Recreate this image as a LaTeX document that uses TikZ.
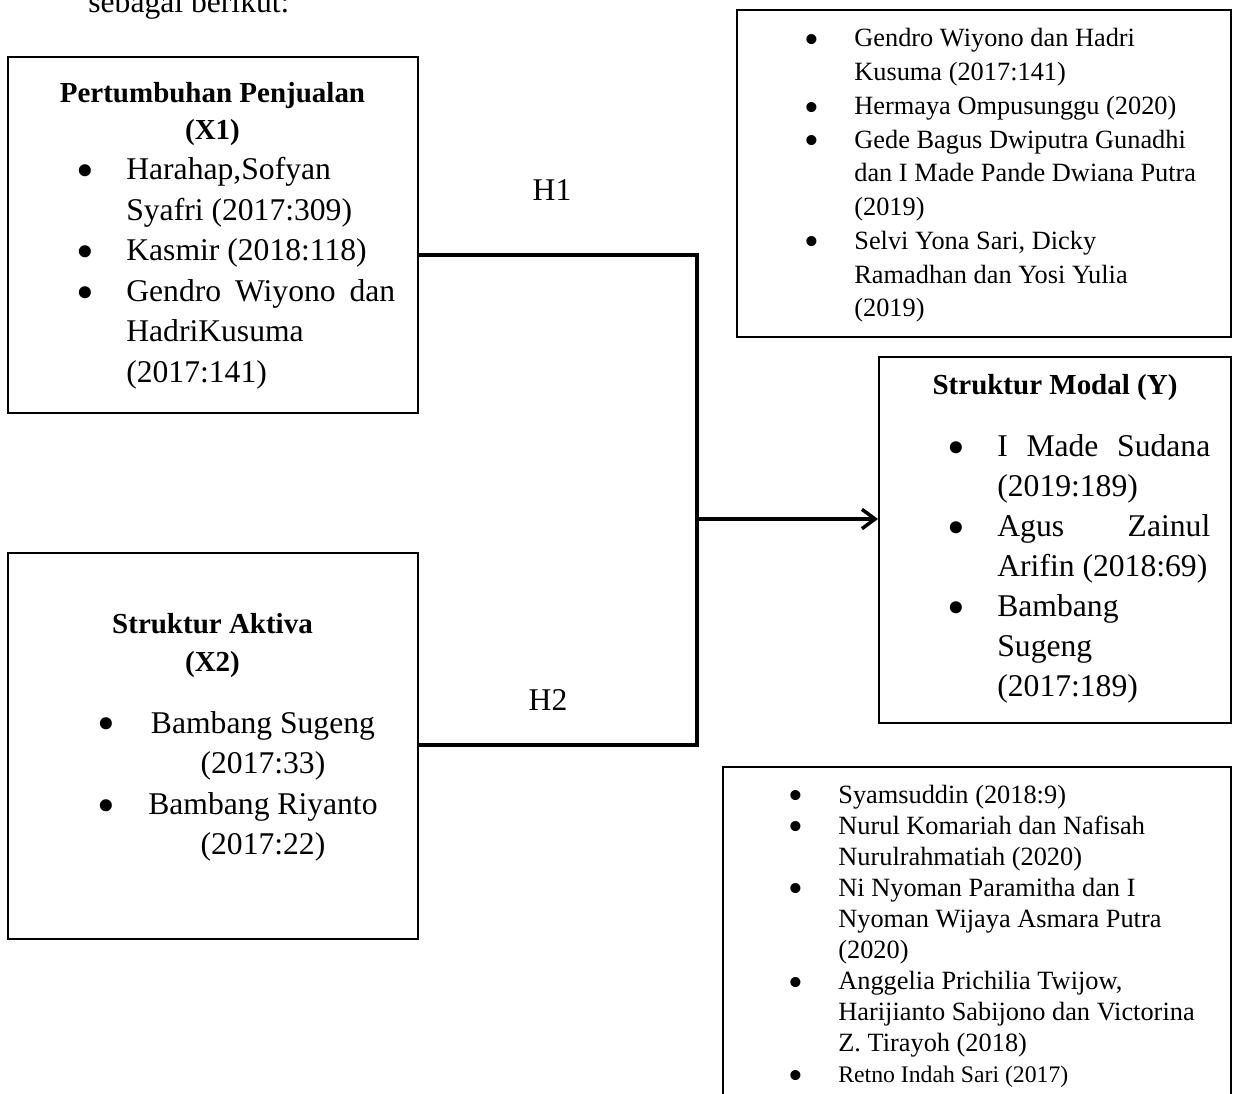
\documentclass[tikz,border=0pt]{standalone}
\usepackage{fontspec}
\setmainfont{Liberation Serif}
\usetikzlibrary{shapes,arrows.meta,positioning}

\newcommand{\blt}{\raisebox{-0.25em}{\scalebox{1.6}{\textbullet}}}
\newenvironment{blist}[1]{\begin{tabular}[t]{@{}p{#1}@{}l@{}}}{\end{tabular}}

\begin{document}
\begin{tikzpicture}[
  x=0.02cm, y=-0.02cm,
  box/.style={rectangle, draw, line width=1.1pt, inner sep=0pt},
  head/.style={inner sep=0pt, anchor=base, font=\fontsize{16.5}{21}\selectfont\bfseries},
  list/.style={inner sep=0pt, anchor=base west},
  big/.style={font=\fontsize{18}{23}\selectfont},
  small/.style={font=\fontsize{15}{19.2}\selectfont},
  link/.style={line width=2pt},
  arrow/.style={link, -{Straight Barb[length=7.5pt, width=11pt]}}
]
\useasboundingbox (0,0) rectangle (1233,1094);

% Lead-in line, cut by the page edge
\node[list, big] (intro) at (88,13) {sebagai berikut:};

% Variable boxes
\node[box, minimum width=8.2cm, minimum height=7.12cm] (x1) at (213,235) {};
\node[box, minimum width=8.2cm, minimum height=7.72cm] (x2) at (213,746) {};
\node[box, minimum width=7.04cm, minimum height=7.32cm] (y) at (1055,540) {};

% Reference boxes
\node[box, minimum width=9.88cm, minimum height=6.54cm] (refy) at (984,173.5) {};
\node[box, minimum width=10.16cm, minimum height=6.86cm] (refx) at (977,938.5) {};

% Headings
\node[head] (x1head) at (212.5,103) {\begin{tabular}[t]{@{}c@{}}Pertumbuhan Penjualan\\(X1)\end{tabular}};
\node[head, font=\fontsize{16.5}{22}\selectfont\bfseries] (x2head) at (212.5,633) {\begin{tabular}[t]{@{}c@{}}Struktur Aktiva\\(X2)\end{tabular}};
\node[head] (yhead) at (1055,395) {Struktur Modal (Y)};

% Lists
\node[list, big] (x1list) at (76,180) {\begin{blist}{1.0cm}
\blt & Harahap,Sofyan\\
 & Syafri (2017:309)\\
\blt & Kasmir (2018:118)\\
\blt & \makebox[5.38cm][s]{Gendro Wiyono dan}\\
 & HadriKusuma\\
 & (2017:141)
\end{blist}};

\node[list, font=\fontsize{18}{23.1}\selectfont] (x2list) at (97,733) {\begin{tabular}[t]{@{}p{1.02cm}@{}c@{}}
\blt & Bambang Sugeng\\
 & (2017:33)\\
\blt & Bambang Riyanto\\
 & (2017:22)
\end{tabular}};

\node[list, font=\fontsize{18}{22.76}\selectfont] (ylist) at (947,457) {\begin{blist}{1.0cm}
\blt & \makebox[4.26cm][s]{I Made Sudana}\\
 & (2019:189)\\
\blt & \makebox[4.26cm][s]{Agus Zainul}\\
 & Arifin (2018:69)\\
\blt & Bambang\\
 & Sugeng\\
 & (2017:189)
\end{blist}};

\node[list, small] (refylist) at (804.5,47) {\begin{blist}{0.99cm}
\blt & Gendro Wiyono dan Hadri\\
 & Kusuma (2017:141)\\
\blt & Hermaya Ompusunggu (2020)\\
\blt & Gede Bagus Dwiputra Gunadhi\\
 & dan I Made Pande Dwiana Putra\\
 & (2019)\\
\blt & Selvi Yona Sari, Dicky\\
 & Ramadhan dan Yosi Yulia\\
 & (2019)
\end{blist}};

\node[list, font=\fontsize{15}{17.7}\selectfont] (refxlist) at (788.5,803) {\begin{blist}{0.99cm}
\blt & Syamsuddin (2018:9)\\
\blt & Nurul Komariah dan Nafisah\\
 & Nurulrahmatiah (2020)\\
\blt & Ni Nyoman Paramitha dan I\\
 & Nyoman Wijaya Asmara Putra\\
 & (2020)\\
\blt & Anggelia Prichilia Twijow,\\
 & Harijianto Sabijono dan Victorina\\
 & Z. Tirayoh (2018)\\
\blt & {\fontsize{13.5}{17.7}\selectfont Retno Indah Sari (2017)}
\end{blist}};

% Hypothesis paths
\coordinate (jtop) at (697,255);
\coordinate (jbot) at (697,745);
\coordinate (jmid) at (697,519);
\draw[link] (x1.east |- jtop) -- (jtop) -- (jbot) -- (x2.east |- jbot);
\draw[arrow] (jmid) -- (y.west |- jmid);

\node[big, inner sep=0pt] (h1) at (552,190) {H1};
\node[big, inner sep=0pt] (h2) at (548,700) {H2};
\end{tikzpicture}
\end{document}
